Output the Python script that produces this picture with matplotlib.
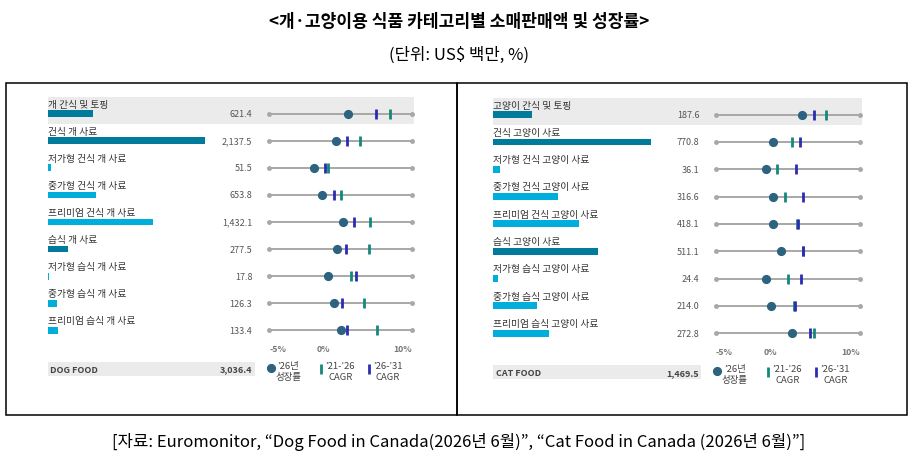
import matplotlib.pyplot as plt
from matplotlib.patches import Rectangle

plt.rcParams['font.family'] = ['Noto Sans CJK KR', 'DejaVu Sans']

dog_labels = ['개 간식 및 토핑', '건식 개 사료', '저가형 건식 개 사료', '중가형 건식 개 사료',
              '프리미엄 건식 개 사료', '습식 개 사료', '저가형 습식 개 사료',
              '중가형 습식 개 사료', '프리미엄 습식 개 사료']
dog_sales = [621.4, 2137.5, 51.5, 653.8, 1432.1, 277.5, 17.8, 126.3, 133.4]
dog_growth_26 = [3.3, 2.0, -0.3, 0.5, 2.7, 2.1, 1.2, 1.8, 2.5]
dog_cagr_21_26 = [7.7, 4.5, 1.2, 2.5, 5.6, 5.5, 3.6, 4.9, 6.3]
dog_cagr_26_31 = [6.2, 3.2, 0.8, 1.8, 3.9, 3.0, 4.1, 2.6, 3.2]
dog_total = 3036.4

cat_labels = ['고양이 간식 및 토핑', '건식 고양이 사료', '저가형 건식 고양이 사료',
              '중가형 건식 고양이 사료', '프리미엄 건식 고양이 사료', '습식 고양이 사료',
              '저가형 습식 고양이 사료', '중가형 습식 고양이 사료', '프리미엄 습식 고양이 사료']
cat_sales = [187.6, 770.8, 36.1, 316.6, 418.1, 511.1, 24.4, 214.0, 272.8]
cat_growth_26 = [4.0, 1.0, 0.2, 1.0, 1.0, 1.8, 0.2, 0.7, 2.9]
cat_cagr_21_26 = [6.5, 2.9, 1.4, 2.2, 3.5, 4.1, 2.5, 3.1, 5.2]
cat_cagr_26_31 = [5.2, 3.8, 3.3, 4.1, 3.6, 4.1, 3.9, 3.2, 4.8]
cat_total = 1469.5

parent_rows = [0, 1, 5]
tick_values = [-5, 0, 10]
tick_labels = ['-5%', '0%', '10%']

DARK = '#007B9B'
LIGHT = '#00AEDB'
DOT = '#2D6381'
GREEN = '#13897A'
BLUE = '#2B2BB3'
GRAY_LINE = '#A8A8A8'
BAND = '#EBEBEB'

W, H = 918, 464
fig = plt.figure(figsize=(W / 100, H / 100), dpi=100)


def frac(x, y, w, h):
    # pixel box (top-left origin) -> figure fraction
    return [x / W, 1 - (y + h) / H, w / W, h / H]


def panel(labels, sales, g26, c2126, c2631, total, total_name,
          bar_x0, bar_len, val_x, line_x0, line_x1, row0, pitch, band_x1, tot_x1):
    top_r, bot_r = -0.9, 10.4
    y_top = row0 + top_r * pitch
    h = (bot_r - top_r) * pitch
    ax_bar = fig.add_axes(frac(bar_x0, y_top, bar_len, h))
    ax_dot = fig.add_axes(frac(line_x0, y_top, line_x1 - line_x0, h))
    for ax in (ax_bar, ax_dot):
        ax.set_ylim(bot_r, top_r)
        ax.axis('off')
        ax.patch.set_alpha(0)
    smax = max(sales)
    ax_bar.set_xlim(0, smax)
    ax_dot.set_xlim(-5, 10)
    px_b = smax / bar_len
    px_d = 15 / (line_x1 - line_x0)

    rows = list(range(len(labels)))
    # grey band behind first row
    ax_bar.add_patch(Rectangle((0, -0.62), (band_x1 - bar_x0) * px_b, 1.0,
                               color=BAND, zorder=0, clip_on=False, lw=0))
    colors = [DARK if i in parent_rows else LIGHT for i in rows]
    ax_bar.barh(rows, sales, height=0.25, color=colors, zorder=2)
    for i in rows:
        ax_bar.text(0, i - 0.37, labels[i], fontsize=7, color='#333333',
                    ha='left', va='center')
        ax_dot.text(-5 - (line_x0 - val_x) * px_d, i, f'{sales[i]:,.1f}',
                    fontsize=6.5, color='#555555', ha='right', va='center')
        ax_dot.plot([-5, 10], [i, i], color=GRAY_LINE, lw=1.4, zorder=1,
                    marker='o', ms=2.5, solid_capstyle='butt', clip_on=False)
    ax_dot.plot(c2126, rows, ls='none', marker='|', ms=7.5, mew=2.0,
                color=GREEN, zorder=3, clip_on=False)
    ax_dot.plot(c2631, rows, ls='none', marker='|', ms=7.5, mew=2.0,
                color=BLUE, zorder=4, clip_on=False)
    ax_dot.plot(g26, rows, ls='none', marker='o', ms=5.6,
                color=DOT, zorder=5, clip_on=False)

    aligns = ['left', 'left', 'right']
    for v, t, a in zip(tick_values, tick_labels, aligns):
        ax_dot.text(v, 8.67, t, fontsize=6.3, color='#777777', fontweight='bold',
                    ha=a, va='center')

    # total row
    ty = 9.43
    ax_bar.add_patch(Rectangle((0, ty - 0.25), (tot_x1 - bar_x0) * px_b, 0.5,
                               color=BAND, zorder=0, clip_on=False, lw=0))
    ax_bar.text(2.5 * px_b, ty, total_name, fontsize=6.5, fontweight='bold',
                color='#444444', ha='left', va='center')
    ax_dot.text(-5 - (line_x0 - val_x) * px_d, ty, f'{total:,.1f}', fontsize=6.5,
                fontweight='bold', color='#444444', ha='right', va='center')

    # legend
    leg = [(-4.85, 'o', DOT, '\u201926년\n성장률', -4.35),
           (0.42, '|', GREEN, '\u201921-\u201926\nCAGR', 0.92),
           (5.46, '|', BLUE, '\u201926-\u201931\nCAGR', 5.9)]
    for mx, mk, col, txt, tx in leg:
        if mk == 'o':
            ax_dot.plot([mx], [ty - 0.03], marker='o', ms=5.6, color=col,
                        clip_on=False)
        else:
            ax_dot.plot([mx], [ty], marker='|', ms=7.5, mew=2.0, color=col,
                        clip_on=False)
        ax_dot.text(tx, ty - 0.28, txt, fontsize=6.8, color='#444444', ha='left',
                    va='top', multialignment='center', linespacing=1.15)


panel(dog_labels, dog_sales, dog_growth_26, dog_cagr_21_26, dog_cagr_26_31,
      dog_total, 'DOG FOOD', 47.7, 157.3, 252.3, 269.3, 412.3, 114.7, 27.08, 414, 255)
panel(cat_labels, cat_sales, cat_growth_26, cat_cagr_21_26, cat_cagr_26_31,
      cat_total, 'CAT FOOD', 493, 158.3, 699.3, 715.7, 860, 115.7, 27.3, 862, 701.3)

# boxes
box = fig.add_axes([0, 0, 1, 1])
box.set_xlim(0, W)
box.set_ylim(H, 0)
box.axis('off')
box.patch.set_alpha(0)
box.add_patch(Rectangle((5.5, 83.5), 451.5, 332.5, fill=False, ec='black', lw=1.1))
box.add_patch(Rectangle((457, 83.5), 450, 332.5, fill=False, ec='black', lw=1.1))

fig.text(0.5, 1 - 22 / H, '<개·고양이용 식품 카테고리별 소매판매액 및 성장률>',
         fontsize=12.3, fontweight='bold', ha='center', va='center')
fig.text(0.5, 1 - 55 / H, '(단위: US$ 백만, %)', fontsize=12, ha='center', va='center')
fig.text(0.5, 1 - 442 / H,
         '[자료: Euromonitor, \u201cDog Food in Canada(2026년 6월)\u201d, '
         '\u201cCat Food in Canada (2026년 6월)\u201d]',
         fontsize=12, ha='center', va='center')

fig.savefig('out.png', dpi=100)
